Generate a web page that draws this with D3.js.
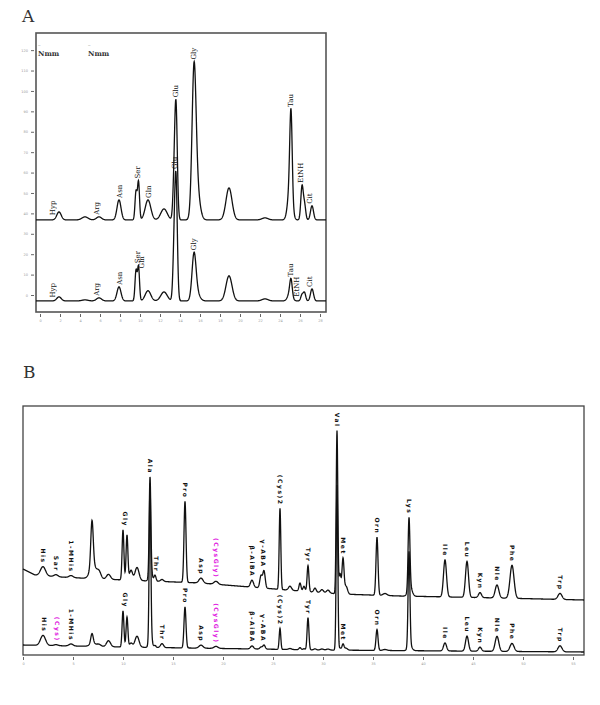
<!DOCTYPE html>
<html>
<head>
<meta charset="utf-8">
<script src="https://cdn.jsdelivr.net/npm/d3@7"></script>
<style>
body { margin: 0; background: #fff; }
svg { display: block; }
</style>
</head>
<body>
<div id="chart"></div>
<script>
// ---------- panel A : retention time (min), peak heights (axis units) ----------
var peakTimeA  = [1.9, 4.5, 5.9, 7.9, 9.6, 9.85, 10.8, 12.4, 13.4, 13.6, 15.4, 15.65, 18.9, 22.5, 25.0, 25.1, 26.2, 26.45, 27.2];
var peakWidthA = [0.22, 0.3, 0.25, 0.2, 0.1, 0.1, 0.28, 0.32, 0.12, 0.13, 0.2, 0.3, 0.3, 0.3, 0.22, 0.12, 0.12, 0.12, 0.15];
var upperA     = [3.9, 1.5, 1.5, 9.8, 13.7, 18.6, 9.8, 5.4, 14.7, 55.0, 66.0, 16.0, 15.7, 1.0, 16.0, 40.0, 16.2, 7.4, 6.9];
var lowerA     = [2.0, 0.5, 1.5, 6.9, 14.7, 16.7, 5.0, 4.4, 19.6, 58.0, 21.0, 4.0, 12.3, 1.0, 4.0, 7.4, 3.0, 4.0, 5.9];
var upperBaseA = 36.8;
var lowerBaseA = -2.9;
var labelTextA   = ["Hyp", "Arg", "Asn", "Ser", "Gln", "Glu", "Gly", "Tau", "EtNH", "Cit"];
var labelUpperTA = [1.3, 5.7, 8.0, 9.8, 10.9, 13.55, 15.4, 25.1, 26.1, 27.0];
var labelLowerTA = [1.3, 5.7, 8.0, 9.8, 10.2, 13.5, 15.4, 25.1, 25.7, 27.0];
var xTicksA = d3.range(0, 29, 2);
var yTicksA = d3.range(0, 121, 10);

// ---------- panel B ----------
var peakTimeB  = [2.0, 3.3, 4.8, 6.9, 7.0, 7.6, 8.55, 10.0, 10.4, 10.8, 11.4, 12.7, 12.75, 13.2, 13.9, 16.2, 17.8, 19.3,
                  22.9, 23.8, 24.1, 25.7, 26.7, 27.7, 28.1, 28.5, 29.2, 29.9, 30.5, 31.4, 31.7, 32.0, 32.3, 35.4, 36.2,
                  38.6, 38.7, 42.2, 44.4, 45.7, 47.4, 48.9, 53.7];
var peakWidthB = [0.25, 0.2, 0.2, 0.12, 0.3, 0.2, 0.2, 0.09, 0.09, 0.15, 0.2, 0.08, 0.14, 0.1, 0.15, 0.1, 0.2, 0.2,
                  0.15, 0.12, 0.12, 0.08, 0.15, 0.1, 0.1, 0.09, 0.12, 0.15, 0.15, 0.08, 0.1, 0.1, 0.15, 0.1, 0.2,
                  0.09, 0.2, 0.15, 0.15, 0.15, 0.18, 0.2, 0.2];
var upperB     = [9, 2, 2, 45, 14, 7, 5, 50, 45, 10, 13, 90, 15, 6, 2, 81, 5, 3,
                  7, 12, 17, 81, 4, 8, 5, 26, 4, 3, 3, 163, 20, 35, 8, 58, 2,
                  70, 10, 37, 36, 5, 13, 33, 6];
var lowerB     = [10, 1, 2, 10, 3, 2, 6, 36, 30, 4, 11, 150, 15, 2, 4, 41, 3, 2,
                  3, 2, 4, 21, 1, 2, 1, 32, 1, 1, 1, 165, 2, 6, 2, 21, 1,
                  95, 5, 8, 15, 4, 15, 8, 6];
// baseline drift (time, level)
var upperBaseT = [0, 1.2, 3.7, 7.7, 12.7, 17.7, 22.7, 27.7, 31.7, 37.7, 47.7, 56.1];
var upperBaseV = [86, 80, 78, 76, 74, 72, 68, 64, 61, 59, 57, 55];
var lowerBaseT = [0, 10, 30, 56.1];
var lowerBaseV = [10, 8, 5, 3];

var labelTextBU = ["His", "Sar", "1-MHis", "Gly", "Ala", "Thr", "Pro", "Asp", "(CysGly)", "β-AiBA", "γ-ABA", "(Cys)2",
                   "Tyr", "Val", "Met", "Orn", "Lys", "Ile", "Leu", "Kyn", "Nle", "Phe", "Trp"];
var labelTimeBU = [2.0, 3.3, 4.8, 10.2, 12.7, 13.3, 16.2, 17.8, 19.3, 22.9, 24.0, 25.7,
                   28.5, 31.4, 32.0, 35.4, 38.6, 42.2, 44.4, 45.7, 47.4, 48.9, 53.7];
var labelTextBL = ["His", "(Cys)", "1-MHis", "Gly", "Thr", "Pro", "Asp", "(CysGly)", "β-AiBA", "γ-ABA", "(Cys)2",
                   "Tyr", "Met", "Orn", "Ile", "Leu", "Kyn", "Nle", "Phe", "Trp"];
var labelTimeBL = [2.1, 3.4, 4.8, 10.2, 13.9, 16.2, 17.8, 19.3, 22.9, 24.0, 25.7,
                   28.5, 32.0, 35.4, 42.2, 44.4, 45.7, 47.4, 48.9, 53.7];
var magentaLabels = ["(Cys)", "(CysGly)"];
var xTicksB = d3.range(0, 56, 5);

var svg = d3.select("#chart").append("svg")
  .attr("width", 600)
  .attr("height", 705);

function peakSum(t, times, heights, widths) {
  var s = 0;
  for (var i = 0; i < times.length; i++) {
    var d = (t - times[i]) / widths[i];
    s += heights[i] * Math.exp(-0.5 * d * d);
  }
  return s;
}

function makeTrace(domain, step, baseFn, times, heights, widths) {
  return d3.range(domain[0], domain[1] + step / 2, step).map(function(t) {
    return [t, baseFn(t) + peakSum(t, times, heights, widths)];
  });
}

// label sits on top of the highest point of the trace near its time
function drawLabels(g, x, y, trace, texts, ltimes, opt) {
  texts.forEach(function(txt, i) {
    var t0 = ltimes[i];
    var top = d3.max(trace.filter(function(p) { return Math.abs(p[0] - t0) <= opt.win; }), function(p) { return p[1]; });
    var px = x(t0), py = y(top) - opt.gap;
    g.append("text")
      .attr("transform", "translate(" + px + "," + py + ") rotate(" + opt.rot + ")")
      .attr("text-anchor", opt.rot < 0 ? "start" : "end")
      .attr("dy", "0.35em")
      .attr("font-family", opt.font)
      .attr("font-size", opt.size)
      .attr("font-weight", opt.weight)
      .attr("letter-spacing", opt.ls)
      .attr("fill", magentaLabels.indexOf(txt) >= 0 ? "#e020e0" : "#111")
      .text(txt);
  });
}

// =================== PANEL A ===================
var boxA = {x0: 36, x1: 326, y0: 33, y1: 312};
var xA = d3.scaleLinear().domain([-0.4, 28.6]).range([boxA.x0, boxA.x1]);
var yA = d3.scaleLinear().domain([-8.33, 128.4]).range([boxA.y1, boxA.y0]);

svg.append("text")
  .attr("x", 22).attr("y", 22)
  .attr("font-family", "DejaVu Serif")
  .attr("font-size", 17)
  .attr("fill", "#333")
  .text("A");

var gA = svg.append("g");
gA.append("rect")
  .attr("x", boxA.x0).attr("y", boxA.y0)
  .attr("width", boxA.x1 - boxA.x0).attr("height", boxA.y1 - boxA.y0)
  .attr("fill", "none").attr("stroke", "#555").attr("stroke-width", 1.6);

var axisXA = gA.append("g")
  .attr("transform", "translate(0," + (boxA.y1 + 2) + ")")
  .call(d3.axisBottom(xA).tickValues(xTicksA).tickSize(3).tickFormat(d3.format("d")));
var axisYA = gA.append("g")
  .attr("transform", "translate(" + (boxA.x0 - 2) + ",0)")
  .call(d3.axisLeft(yA).tickValues(yTicksA).tickSize(3));
[axisXA, axisYA].forEach(function(a) {
  a.select(".domain").remove();
  a.selectAll("line").attr("stroke", "#666");
  a.selectAll("text").attr("font-size", 3.5).attr("fill", "#999").attr("font-family", "DejaVu Sans");
});

gA.append("text").attr("x", 38).attr("y", 56)
  .attr("font-family", "DejaVu Serif").attr("font-size", 7).attr("font-weight", "bold").attr("fill", "#333").text("Nmm");
gA.append("text").attr("x", 88).attr("y", 56)
  .attr("font-family", "DejaVu Serif").attr("font-size", 7).attr("font-weight", "bold").attr("fill", "#333").text("Nmm");
gA.append("text").attr("x", 38).attr("y", 46).attr("font-size", 5).attr("fill", "#555").text("–");
gA.append("text").attr("x", 88).attr("y", 46).attr("font-size", 5).attr("fill", "#555").text("–");

var traceUA = makeTrace([-0.4, 28.6], 0.02, function() { return upperBaseA; }, peakTimeA, upperA, peakWidthA);
var traceLA = makeTrace([-0.4, 28.6], 0.02, function() { return lowerBaseA; }, peakTimeA, lowerA, peakWidthA);
var lineA = d3.line().x(function(d) { return xA(d[0]); }).y(function(d) { return yA(d[1]); });

[traceLA, traceUA].forEach(function(tr) {
  gA.append("path").datum(tr)
    .attr("d", lineA)
    .attr("fill", "none").attr("stroke", "#111").attr("stroke-width", 1.3);
});

var labOptA = {win: 0.3, gap: 2, rot: -90, size: 7, ls: 0, weight: "normal", font: "DejaVu Serif"};
drawLabels(gA, xA, yA, traceUA, labelTextA, labelUpperTA, labOptA);
drawLabels(gA, xA, yA, traceLA, labelTextA, labelLowerTA, labOptA);

// =================== PANEL B ===================
var boxB = {x0: 23, x1: 584, y0: 406, y1: 655};
var xB = d3.scaleLinear().domain([0, 56.1]).range([boxB.x0, boxB.x1]);
var yB = d3.scaleLinear().domain([0, 249]).range([boxB.y1, boxB.y0]);

svg.append("text")
  .attr("x", 23).attr("y", 378)
  .attr("font-family", "DejaVu Serif")
  .attr("font-size", 17)
  .attr("fill", "#333")
  .text("B");

var gB = svg.append("g");
gB.append("rect")
  .attr("x", boxB.x0).attr("y", boxB.y0)
  .attr("width", boxB.x1 - boxB.x0).attr("height", boxB.y1 - boxB.y0)
  .attr("fill", "none").attr("stroke", "#444").attr("stroke-width", 1.3);

var axisXB = gB.append("g")
  .attr("transform", "translate(0," + (boxB.y1 + 2) + ")")
  .call(d3.axisBottom(xB).tickValues(xTicksB).tickSize(3).tickFormat(d3.format("d")));
axisXB.select(".domain").remove();
axisXB.selectAll("line").attr("stroke", "#666");
axisXB.selectAll("text").attr("font-size", 3.5).attr("fill", "#999").attr("font-family", "DejaVu Sans");

var upperBaseB = d3.scaleLinear().domain(upperBaseT).range(upperBaseV).clamp(true);
var lowerBaseB = d3.scaleLinear().domain(lowerBaseT).range(lowerBaseV).clamp(true);
var traceUB = makeTrace([0, 56.1], 0.02, upperBaseB, peakTimeB, upperB, peakWidthB);
var traceLB = makeTrace([0, 56.1], 0.02, lowerBaseB, peakTimeB, lowerB, peakWidthB);
var lineB = d3.line().x(function(d) { return xB(d[0]); }).y(function(d) { return yB(d[1]); });

[traceLB, traceUB].forEach(function(tr) {
  gB.append("path").datum(tr)
    .attr("d", lineB)
    .attr("fill", "none").attr("stroke", "#111").attr("stroke-width", 1.3);
});

var labOptB = {win: 0.25, gap: 3, rot: 90, size: 6, ls: 1.5, weight: "bold", font: "DejaVu Sans"};
drawLabels(gB, xB, yB, traceUB, labelTextBU, labelTimeBU, labOptB);
drawLabels(gB, xB, yB, traceLB, labelTextBL, labelTimeBL, labOptB);
</script>
</body>
</html>
